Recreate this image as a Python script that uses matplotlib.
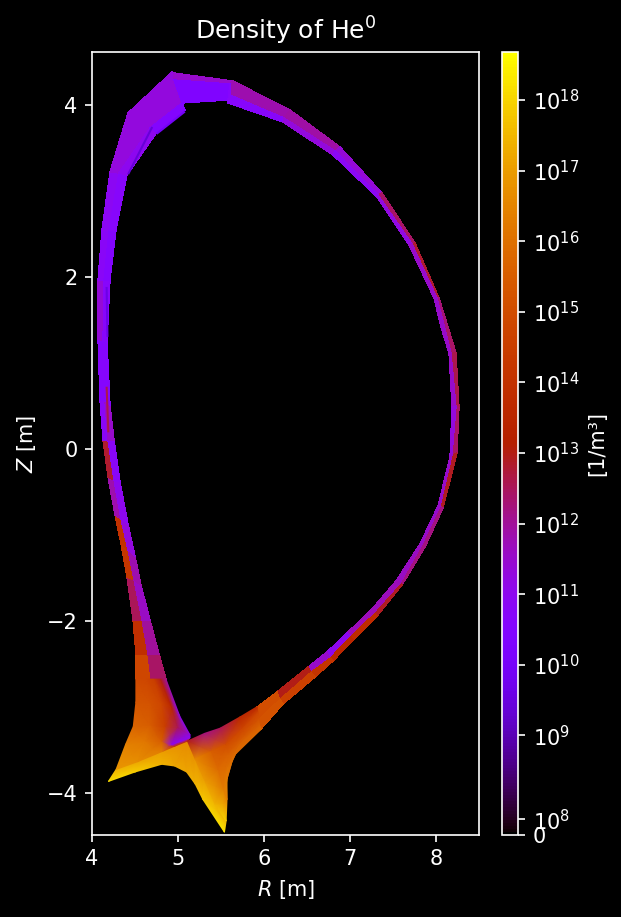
import numpy as np
import matplotlib
matplotlib.use('Agg')
import matplotlib.pyplot as plt
from matplotlib.colors import SymLogNorm
from matplotlib.cm import ScalarMappable

# SOL ring, going clockwise from the inner leg to the outer leg
wall_R = [4.51, 4.51, 4.48, 4.41, 4.34, 4.27, 4.19, 4.13, 4.09, 4.07, 4.07, 4.12, 4.21, 4.42, 4.93, 4.95, 5.64, 5.64,
          6.30, 6.88, 7.37, 7.75, 8.04, 8.15, 8.23, 8.27, 8.24, 8.08, 7.87, 7.61, 7.31, 7.03, 6.80, 6.59, 6.22, 5.97]
wall_Z = [-2.68, -2.39, -1.99, -1.49, -1.11, -0.77, -0.33, 0.10, 0.57, 1.27, 1.96, 2.54, 3.22, 3.90, 4.38, 4.37, 4.27, 4.27,
          3.94, 3.51, 2.97, 2.39, 1.75, 1.38, 1.11, 0.48, -0.05, -0.69, -1.14, -1.58, -1.95, -2.22, -2.47, -2.65, -2.97, -3.26]
mid_R = [4.69, 4.65, 4.58, 4.49, 4.42, 4.34, 4.26, 4.19, 4.15, 4.13, 4.14, 4.20, 4.31, 4.67, 5.05, 4.95, 5.61, 5.60,
         6.23, 6.83, 7.33, 7.72, 8.01, 8.10, 8.18, 8.23, 8.19, 8.05, 7.83, 7.58, 7.28, 7.00, 6.76, 6.54, 6.18, 5.94]
mid_Z = [-2.68, -2.39, -1.99, -1.53, -1.18, -0.82, -0.36, 0.10, 0.55, 1.25, 1.96, 2.54, 3.21, 3.73, 4.02, 4.29, 4.24, 4.11,
         3.84, 3.46, 2.95, 2.38, 1.75, 1.39, 1.11, 0.48, -0.07, -0.67, -1.13, -1.56, -1.90, -2.17, -2.42, -2.59, -2.90, -3.12]
core_R = [4.86, 4.78, 4.67, 4.57, 4.50, 4.42, 4.33, 4.26, 4.21, 4.17, 4.21, 4.28, 4.41, 4.75, 5.08, 5.05, 5.58, 5.58,
          6.22, 6.80, 7.31, 7.69, 7.98, 8.06, 8.15, 8.19, 8.16, 8.02, 7.81, 7.54, 7.25, 6.97, 6.73, 6.51, 6.15, 5.92]
core_Z = [-2.68, -2.39, -1.99, -1.58, -1.25, -0.88, -0.39, 0.10, 0.51, 1.24, 1.96, 2.54, 3.18, 3.68, 3.94, 4.02, 4.06, 4.02,
          3.80, 3.41, 2.93, 2.37, 1.75, 1.41, 1.11, 0.48, -0.10, -0.67, -1.11, -1.54, -1.87, -2.14, -2.36, -2.54, -2.83, -3.00]
# log10 density per cell
wall_logn = [14.8, 13.9, 12.5, 14.2, 14.0, 11.8, 12.8, 10.8, 10.6, 11.4, 10.8, 10.9, 11.3, 11.3, 11.3, 11.5, 11.7,
             11.8, 11.9, 11.4, 12.4, 12.8, 12.3, 12.4, 12.6, 12.4, 12.9, 12.2, 12.2, 12.9, 13.7, 13.5, 14.1, 14.6, 15.2]
core_logn = [12.4, 12.0, 11.6, 11.8, 11.3, 11.0, 10.8, 11.5, 10.6, 10.7, 10.5, 10.7, 11.0, 10.5, 10.5, 10.4, 10.6,
             10.7, 11.3, 10.9, 11.2, 11.5, 11.5, 11.5, 11.5, 11.3, 11.5, 11.5, 11.6, 11.7, 11.7, 11.0, 11.5, 13.0, 15.0]

# private flux region
priv_R = [[4.19, 4.50, 4.81, 4.96, 5.10, 5.20, 5.29, 5.54],
          [4.28, 4.53, 4.82, 5.11, 5.11, 5.20, 5.30, 5.56]]
priv_Z = [[-3.87, -3.76, -3.67, -3.69, -3.76, -3.90, -4.08, -4.46],
          [-3.73, -3.64, -3.52, -3.40, -3.40, -3.60, -3.84, -4.33]]
priv_logn = [[18.2, 17.9, 17.4, 17.2, 17.2, 17.4, 17.8, 18.3],
             [17.4, 17.2, 17.0, 16.6, 16.6, 16.8, 17.0, 17.5]]

# inner divertor
inner_R = [[4.28, 4.53, 4.82, 4.96, 5.11],
           [4.39, 4.62, 4.81, 4.93, 5.14],
           [4.48, 4.67, 4.85, 5.00, 5.14],
           [4.51, 4.67, 4.81, 4.93, 5.02],
           [4.51, 4.63, 4.72, 4.80, 4.86]]
inner_Z = [[-3.73, -3.64, -3.52, -3.46, -3.40],
           [-3.44, -3.40, -3.40, -3.44, -3.36],
           [-3.23, -3.21, -3.23, -3.24, -3.33],
           [-2.95, -2.95, -2.97, -3.01, -3.11],
           [-2.68, -2.68, -2.68, -2.68, -2.68]]
inner_logn = [[16.9, 16.7, 16.3, 14.0, 14.0],
              [16.4, 16.2, 15.5, 11.0, 11.0],
              [15.7, 15.5, 14.5, 12.5, 11.0],
              [15.3, 15.2, 14.8, 13.5, 11.0],
              [14.9, 14.8, 14.5, 13.0, 12.0]]

# outer divertor
outer_R = [[5.11, 5.20, 5.32, 5.43, 5.56],
           [5.31, 5.39, 5.47, 5.53, 5.57],
           [5.49, 5.56, 5.59, 5.58, 5.57],
           [5.72, 5.75, 5.78, 5.72, 5.64],
           [5.92, 5.93, 5.94, 5.95, 5.97]]
outer_Z = [[-3.40, -3.61, -3.88, -4.13, -4.33],
           [-3.31, -3.52, -3.73, -3.96, -4.08],
           [-3.25, -3.44, -3.55, -3.70, -3.84],
           [-3.12, -3.26, -3.34, -3.44, -3.58],
           [-3.00, -3.07, -3.15, -3.22, -3.26]]
outer_logn = [[13.0, 16.6, 17.0, 17.4, 18.0],
              [12.2, 15.5, 15.9, 16.3, 16.5],
              [12.5, 15.0, 15.6, 16.0, 16.4],
              [13.5, 14.8, 15.4, 15.7, 15.9],
              [13.5, 14.8, 15.2, 15.6, 15.8]]

# thin cells that show up as streaks
streak_R = [[4.70, 4.42], [4.17, 4.18], [4.17, 4.19], [4.75, 5.08]]
streak_Z = [[3.74, 3.19], [1.88, 1.30], [0.72, 0.19], [3.66, 3.92]]
streak_logn = [9.4, 9.6, 12.6, 9.9]

cbar_exp = [8, 9, 10, 11, 12, 13, 14, 15, 16, 17, 18]

plt.style.use('dark_background')
cmap = plt.get_cmap('gnuplot')
norm = SymLogNorm(linthresh=5e8, linscale=1, vmin=0, vmax=4.8e18, base=10)

fig = plt.figure(figsize=(4.14, 917 / 150), dpi=150)
ax = fig.add_axes([92 / 621, 1 - 835 / 917, 387 / 621, 783 / 917])
cax = fig.add_axes([502 / 621, 1 - 835 / 917, 16 / 621, 783 / 917])


def dens(a):
    return 10.0 ** np.array(a)


ring_R = np.array([wall_R, mid_R, core_R])
ring_Z = np.array([wall_Z, mid_Z, core_Z])
ax.pcolormesh(ring_R, ring_Z, dens([wall_logn, core_logn]), shading='flat', cmap=cmap, norm=norm,
              edgecolors='face', linewidth=0.15)
for r, z, n in [(priv_R, priv_Z, priv_logn), (inner_R, inner_Z, inner_logn), (outer_R, outer_Z, outer_logn)]:
    ax.pcolormesh(np.array(r), np.array(z), dens(n), shading='gouraud', cmap=cmap, norm=norm)
for r, z, n in zip(streak_R, streak_Z, streak_logn):
    ax.plot(r, z, color=cmap(norm(10.0 ** n)), lw=1.0, solid_capstyle='butt')

ax.set_xlim(4, 8.5)
ax.set_ylim(-4.49, 4.61)
ax.set_aspect('equal', adjustable='box')
ax.set_xticks([4, 5, 6, 7, 8])
ax.set_yticks([-4, -2, 0, 2, 4])
ax.tick_params(labelsize=10)
ax.set_xlabel('$R$ [m]', fontsize=10)
ax.set_ylabel('$Z$ [m]', fontsize=10)
ax.set_title('Density of He$^0$', fontsize=12)

sm = ScalarMappable(norm=norm, cmap=cmap)
cb = fig.colorbar(sm, cax=cax)
cb.set_ticks([0] + [10.0 ** e for e in cbar_exp])
cb.set_ticklabels(['0'] + ['$10^{%d}$' % e for e in cbar_exp])
cb.ax.minorticks_off()
cb.ax.tick_params(labelsize=10)
cb.set_label('[1/m³]', fontsize=10)

fig.savefig('out.png', dpi=150)
